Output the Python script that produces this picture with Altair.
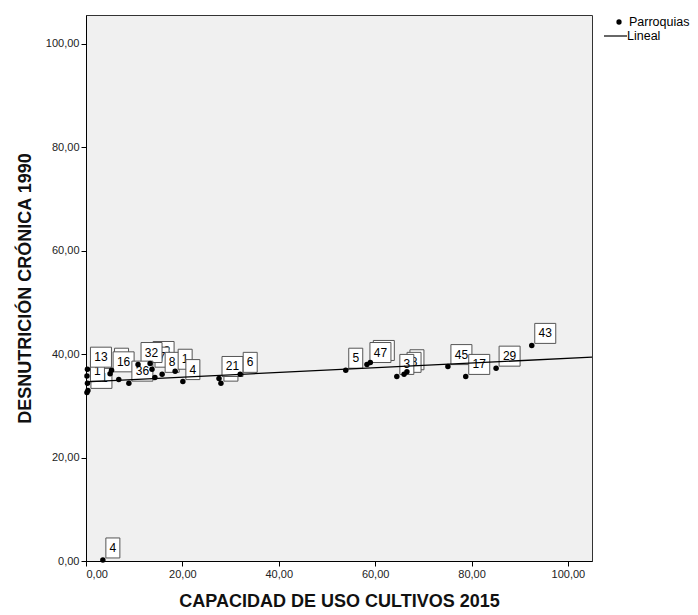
import altair as alt
import pandas as pd

# Point data (x = capacidad de uso cultivos 2015, y = desnutricion cronica 1990, label = parroquia id)
labels = ["", "", "11", "1", "13", "9", "", "16", "28", "7", "32", "36", "", "8", "1", "4",
          "2", "21", "6", "5", "40", "47", "2", "8", "3", "45", "17", "29", "43", "4"]
cap = [0.2, 0.2, 0.4, 0.3, 0.3, 5.3, 6.8, 5.0, 13.3, 13.7, 10.8, 8.9, 14.3, 15.8, 18.5, 20.1,
       28.0, 27.6, 32.0, 53.9, 59.0, 58.3, 66.6, 66.0, 64.5, 75.1, 78.8, 85.1, 92.5, 3.5]
des = [32.6, 35.8, 33.0, 34.4, 37.1, 36.9, 35.1, 36.2, 38.2, 37.1, 38.0, 34.4, 35.5, 36.1, 36.7, 34.7,
       34.4, 35.3, 36.1, 36.9, 38.4, 38.0, 36.6, 36.1, 35.7, 37.6, 35.7, 37.3, 41.7, 0.2]

# Linear fit line
line_x = [0, 105]
line_y = [34.65, 39.42]

x_ticks = [0, 20, 40, 60, 80, 100]
y_ticks = [0, 20, 40, 60, 80, 100]

FONT = "Liberation Sans"

pts = pd.DataFrame({"i": list(range(len(labels))), "cap": cap, "des": des, "lab": labels})
fit = pd.DataFrame({"cap": line_x, "des": line_y})

lab_expr = "replace(format(datum.value, '.2f'), '.', ',')"

xenc = alt.X("cap:Q", scale=alt.Scale(domain=[0, 105], nice=False, zero=False),
             axis=alt.Axis(values=x_ticks, labelExpr=lab_expr, grid=False,
                           title="CAPACIDAD DE USO CULTIVOS 2015",
                           titleFont=FONT, titleFontSize=18, titleFontWeight="bold",
                           titleColor="#111", titlePadding=13,
                           labelFont=FONT, labelFontSize=11, labelColor="#222",
                           tickSize=5, tickColor="#000", domainColor="#000", labelPadding=2))
yenc = alt.Y("des:Q", scale=alt.Scale(domain=[0, 105.6], nice=False, zero=False),
             axis=alt.Axis(values=y_ticks, labelExpr=lab_expr, grid=False,
                           title="DESNUTRICIÓN CRÓNICA 1990",
                           titleFont=FONT, titleFontSize=18, titleFontWeight="bold",
                           titleColor="#111", titlePadding=11,
                           labelFont=FONT, labelFontSize=11, labelColor="#222",
                           tickSize=5, tickColor="#000", domainColor="#000", labelPadding=2))

base_axes = alt.Chart(pts).mark_point(opacity=0).encode(x=xenc, y=yenc)

layers = [base_axes]
BH = 20
for idx, lab in enumerate(labels):
    if lab == "":
        continue
    w = 14 if len(lab) == 1 else 21
    rect = alt.Chart(pts).mark_rect(
        fill="white", stroke="#555", strokeWidth=1,
        xOffset=3, x2Offset=3 + w, yOffset=-2, y2Offset=-2 - BH
    ).encode(x="cap:Q", x2="cap", y="des:Q", y2="des").transform_filter(alt.datum.i == idx)
    txt = alt.Chart(pts).mark_text(
        font=FONT, fontSize=12, color="#000", align="center", baseline="middle",
        dx=3 + w / 2, dy=-2 - BH / 2
    ).encode(x="cap:Q", y="des:Q", text="lab:N").transform_filter(alt.datum.i == idx)
    layers += [rect, txt]

line = alt.Chart(fit).mark_line(color="#000", strokeWidth=1.3).encode(x="cap:Q", y="des:Q")
dots = alt.Chart(pts).mark_circle(size=30, color="#000", opacity=1).encode(x="cap:Q", y="des:Q")
layers += [line, dots]

one = pd.DataFrame({"a": [0]})
leg_dot = alt.Chart(one).mark_circle(size=28, color="#000", opacity=1).encode(
    x=alt.value(533), y=alt.value(7))
leg_t1 = alt.Chart(one).mark_text(font=FONT, fontSize=12.5, align="left", baseline="middle", color="#000").encode(
    x=alt.value(543), y=alt.value(7), text=alt.value("Parroquias"))
leg_line = alt.Chart(one).mark_rule(color="#000", strokeWidth=1.2).encode(
    x=alt.value(518), x2=alt.value(541), y=alt.value(21))
leg_t2 = alt.Chart(one).mark_text(font=FONT, fontSize=12.5, align="left", baseline="middle", color="#000").encode(
    x=alt.value(541), y=alt.value(21), text=alt.value("Lineal"))
layers += [leg_dot, leg_t1, leg_line, leg_t2]

chart = alt.layer(*layers).properties(
    width=506, height=546,
    autosize=alt.AutoSizeParams(type="none"),
    padding={"left": 86, "top": 15, "right": 106, "bottom": 54},
    background="white",
).configure_view(fill="#F0F0F0", stroke="#333", strokeWidth=1)

chart.save("out.html", embed_options={"renderer": "svg", "actions": False})
